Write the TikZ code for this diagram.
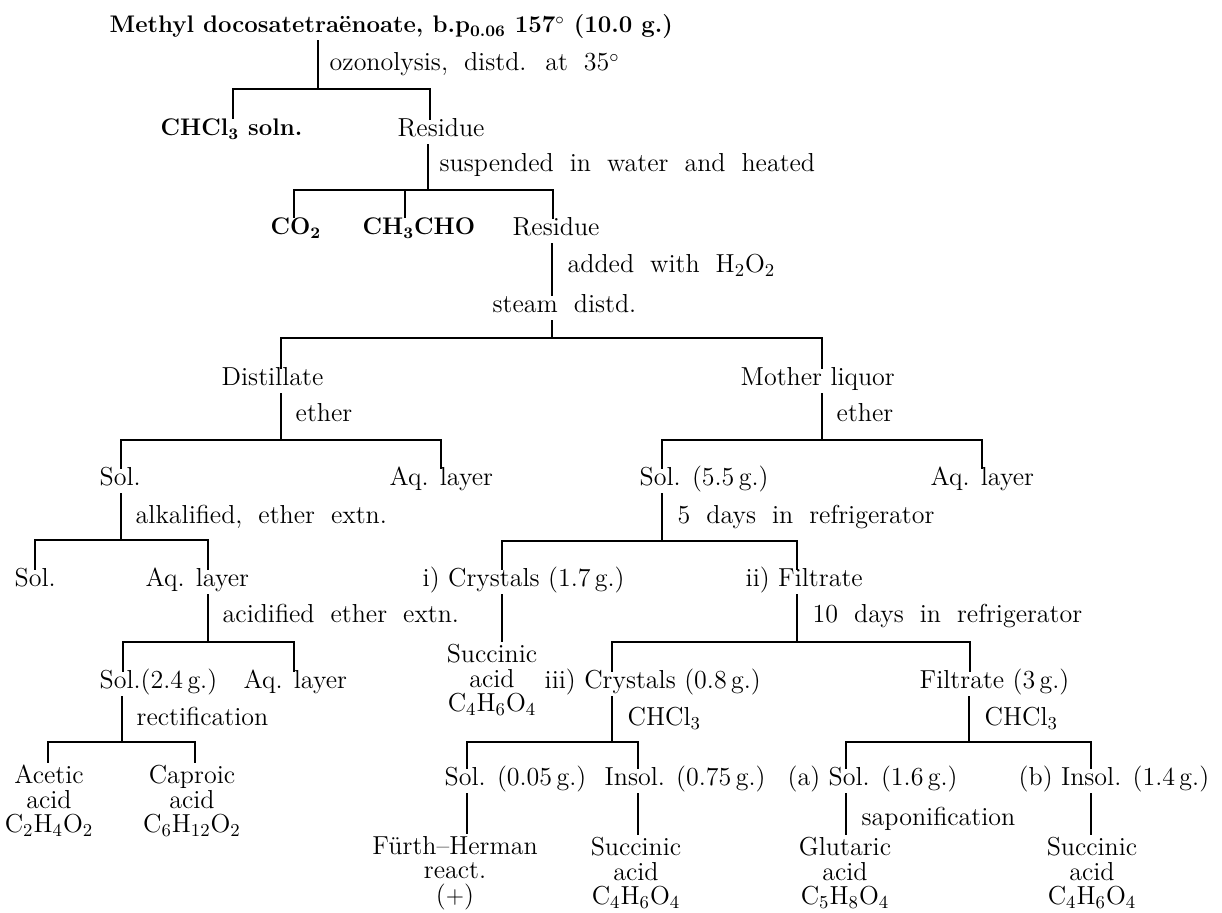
\documentclass[tikz,border=0pt]{standalone}
\usepackage{tikz}
\usetikzlibrary{positioning,calc}

\tikzset{
  lbl/.style={anchor=base west, inner sep=1pt, text height=0.72em, text depth=0.22em,
    font=\fontsize{13}{13}\selectfont},
  cond/.style={lbl, execute at begin node={\spaceskip=8pt plus 1pt minus 1pt\relax}},
  bold/.style={lbl, font=\fontsize{12}{13}\selectfont\bfseries},
  prod/.style={align=center, inner sep=1pt, font=\fontsize{13}{12.2}\selectfont},
}

\begin{document}
\spaceskip=6.5pt plus 1pt minus 0.5pt
\begin{tikzpicture}[x=0.5pt, y=-0.5pt, line width=0.7pt]
        \useasboundingbox (0,0) rectangle (1222,913);

        % Ester, ozonolysis
        \node[bold] (title) at (107,33) {Methyl docosatetra\"enoate, b.p\textsubscript{0.06} 157$^\circ$ (10.0 g.)};
        \node[cond] (ozon) at (327,71) {ozonolysis, distd. at 35$^\circ$};
        \node[bold] (chcl) at (158,136) {CHCl\textsubscript{3} soln.};
        \node[lbl] (resA) at (395,137) {Residue};
        \coordinate (j1) at (318,89);
        \coordinate (j1a) at (233,89);
        \coordinate (j1b) at (430,89);
        \draw (title.south -| j1) -- (j1);
        \draw (j1a |- chcl.north) -- (j1a) -- (j1b) -- (j1b |- resA.north);

        % Residue in water
        \node[cond] (susp) at (437,172) {suspended in water and heated};
        \node[bold] (co) at (268,235) {CO\textsubscript{2}};
        \node[bold] (ald) at (360,235) {CH\textsubscript{3}CHO};
        \node[lbl] (resB) at (510,236) {Residue};
        \coordinate (j2) at (428,190);
        \coordinate (j2a) at (294,190);
        \coordinate (j2b) at (405,190);
        \coordinate (j2c) at (553,190);
        \draw (resA.south -| j2) -- (j2);
        \draw (j2a |- co.north) -- (j2a) -- (j2c) -- (j2c |- resB.north);
        \draw (j2b) -- (j2b |- ald.north);

        % H2O2, steam distillation
        \node[cond] (hyd) at (565,273) {added with H\textsubscript{2}O\textsubscript{2}};
        \node[cond] (steam) at (490,313) {steam distd.};
        \node[lbl] (dist) at (219,386) {Distillate};
        \node[lbl] (moth) at (738,386) {Mother liquor};
        \coordinate (j3) at (552,338);
        \coordinate (j3a) at (281,338);
        \coordinate (j3b) at (822,338);
        \draw (resB.south -| j3) -- (j3 |- steam.north);
        \draw (steam.south -| j3) -- (j3);
        \draw (j3a |- dist.north) -- (j3a) -- (j3b) -- (j3b |- moth.north);

        % Distillate, ether
        \node[cond] (ethA) at (293,422) {ether};
        \node[lbl] (solA) at (97,486) {Sol.};
        \node[lbl] (aqA) at (387,486) {Aq. layer};
        \coordinate (j4) at (281,440);
        \coordinate (j4a) at (121,440);
        \coordinate (j4b) at (441,440);
        \draw (dist.south -| j4) -- (j4);
        \draw (j4a |- solA.north) -- (j4a) -- (j4b) -- (j4b |- aqA.north);

        % Mother liquor, ether
        \node[cond] (ethB) at (834,422) {ether};
        \node[lbl] (solB) at (637,486) {Sol. (5.5\,g.)};
        \node[lbl] (aqB) at (928,486) {Aq. layer};
        \coordinate (j5) at (822,440);
        \coordinate (j5a) at (662,440);
        \coordinate (j5b) at (982,440);
        \draw (moth.south -| j5) -- (j5);
        \draw (j5a |- solB.north) -- (j5a) -- (j5b) -- (j5b |- aqB.north);

        % Sol., alkali
        \node[cond] (alk) at (133,524) {alkalified, ether extn.};
        \node[lbl] (solC) at (12,587) {Sol.};
        \node[lbl] (aqC) at (143,587) {Aq. layer};
        \coordinate (j6) at (121,540);
        \coordinate (j6a) at (35,540);
        \coordinate (j6b) at (208,540);
        \draw (solA.south -| j6) -- (j6);
        \draw (j6a |- solC.north) -- (j6a) -- (j6b) -- (j6b |- aqC.north);

        % Sol. (5.5 g.), 5 days
        \node[cond] (fived) at (675,524) {5 days in refrigerator};
        \node[lbl] (crysA) at (420,587) {i) Crystals (1.7\,g.)};
        \node[lbl] (filtA) at (743,587) {ii) Filtrate};
        \coordinate (j7) at (662,541);
        \coordinate (j7a) at (502,541);
        \coordinate (j7b) at (797,541);
        \draw (solB.south -| j7) -- (j7);
        \draw (j7a |- crysA.north) -- (j7a) -- (j7b) -- (j7b |- filtA.north);
        \node[prod] (succA) at (492,680) {Succinic\\acid\\C\textsubscript{4}H\textsubscript{6}O\textsubscript{4}};
        \draw (crysA.south -| j7a) -- (j7a |- succA.north);

        % Aq. layer, acid
        \node[cond] (acid) at (220,623) {acidified ether extn.};
        \node[lbl] (solD) at (97,689) {Sol.(2.4\,g.)};
        \node[lbl] (aqD) at (241,689) {Aq. layer};
        \coordinate (j8) at (208,642);
        \coordinate (j8a) at (123,642);
        \coordinate (j8b) at (294,642);
        \draw (aqC.south -| j8) -- (j8);
        \draw (j8a |- solD.north) -- (j8a) -- (j8b) -- (j8b |- aqD.north);

        % ii) Filtrate, 10 days
        \node[cond] (tend) at (810,623) {10 days in refrigerator};
        \node[lbl] (crysB) at (542,689) {iii) Crystals (0.8\,g.)};
        \node[lbl] (filtB) at (917,689) {Filtrate (3\,g.)};
        \coordinate (j9) at (797,642);
        \coordinate (j9a) at (612,642);
        \coordinate (j9b) at (970,642);
        \draw (filtA.south -| j9) -- (j9);
        \draw (j9a |- crysB.north) -- (j9a) -- (j9b) -- (j9b |- filtB.north);

        % Rectification
        \node[cond] (rect) at (134,726) {rectification};
        \node[prod] (acet) at (49,801) {Acetic\\acid\\C\textsubscript{2}H\textsubscript{4}O\textsubscript{2}};
        \node[prod] (capr) at (192,801) {Caproic\\acid\\C\textsubscript{6}H\textsubscript{12}O\textsubscript{2}};
        \coordinate (j10) at (122,742);
        \coordinate (j10a) at (48,742);
        \coordinate (j10b) at (195,742);
        \draw (solD.south -| j10) -- (j10);
        \draw (j10a |- acet.north) -- (j10a) -- (j10b) -- (j10b |- capr.north);

        % iii) Crystals, CHCl3
        \node[cond] (chclA) at (625,726) {CHCl\textsubscript{3}};
        \node[lbl] (solE) at (442,786) {Sol. (0.05\,g.)};
        \node[lbl] (insolA) at (602,786) {Insol. (0.75\,g.)};
        \coordinate (j11) at (612,742);
        \coordinate (j11a) at (467,742);
        \coordinate (j11b) at (638,742);
        \draw (crysB.south -| j11) -- (j11);
        \draw (j11a |- solE.north) -- (j11a) -- (j11b) -- (j11b |- insolA.north);
        \node[prod] (furth) at (455,873) {F\"urth--Herman\\react.\\($+$)};
        \node[prod] (succB) at (636,873) {Succinic\\acid\\C\textsubscript{4}H\textsubscript{6}O\textsubscript{4}};
        \draw (solE.south -| j11a) -- (j11a |- furth.north);
        \draw (insolA.south -| j11b) -- (j11b |- succB.north);

        % Filtrate (3 g.), CHCl3
        \node[cond] (chclB) at (982,726) {CHCl\textsubscript{3}};
        \node[lbl] (solF) at (785,786) {(a) Sol. (1.6\,g.)};
        \node[lbl] (insolB) at (1016,786) {(b) Insol. (1.4\,g.)};
        \coordinate (j12) at (969,742);
        \coordinate (j12a) at (846,742);
        \coordinate (j12b) at (1091,742);
        \draw (filtB.south -| j12) -- (j12);
        \draw (j12a |- solF.north) -- (j12a) -- (j12b) -- (j12b |- insolB.north);
        \node[cond] (sapon) at (859,826) {saponification};
        \node[prod] (glut) at (845,873) {Glutaric\\acid\\C\textsubscript{5}H\textsubscript{8}O\textsubscript{4}};
        \node[prod] (succC) at (1092,873) {Succinic\\acid\\C\textsubscript{4}H\textsubscript{6}O\textsubscript{4}};
        \draw (solF.south -| j12a) -- (j12a |- glut.north);
        \draw (insolB.south -| j12b) -- (j12b |- succC.north);
    \end{tikzpicture}
\end{document}
